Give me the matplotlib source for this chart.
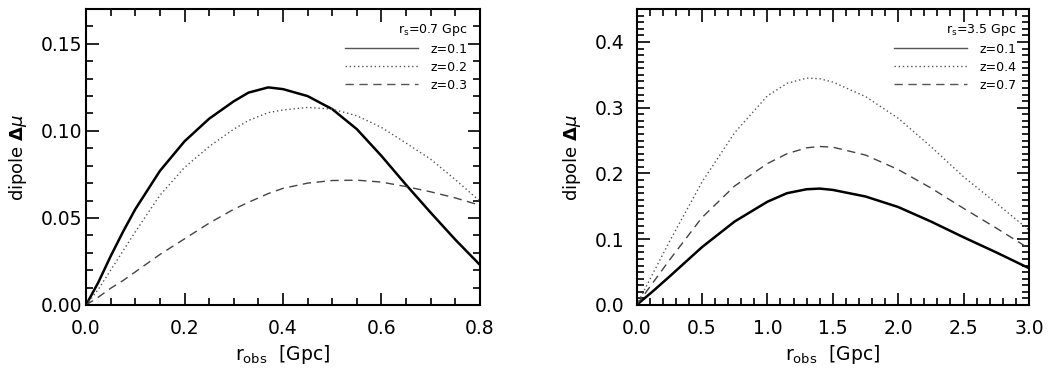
import matplotlib
matplotlib.use('Agg')
import matplotlib.pyplot as plt
from matplotlib.ticker import MultipleLocator, FormatStrFormatter
from matplotlib.lines import Line2D

plt.rcParams['font.family'] = ['DejaVu Sans']
plt.rcParams['mathtext.fontset'] = 'dejavusans'

# left panel, r_s = 0.7 Gpc
r_left = [0.0, 0.025, 0.05, 0.075, 0.1, 0.15, 0.2, 0.25, 0.3, 0.33, 0.37, 0.4,
          0.45, 0.5, 0.55, 0.6, 0.65, 0.7, 0.75, 0.8]
left_z01 = [0.0, 0.013, 0.028, 0.042, 0.055, 0.077, 0.094, 0.107, 0.117, 0.122,
            0.125, 0.124, 0.120, 0.1125, 0.101, 0.0856, 0.069, 0.053, 0.0375, 0.023]
left_z02 = [0.0, 0.009, 0.020, 0.031, 0.042, 0.063, 0.079, 0.091, 0.101, 0.106,
            0.1105, 0.112, 0.1135, 0.1125, 0.1087, 0.102, 0.093, 0.0837, 0.072, 0.0596]
left_z03 = [0.0, 0.0045, 0.0096, 0.014, 0.019, 0.029, 0.038, 0.047, 0.055, 0.059,
            0.064, 0.067, 0.070, 0.0715, 0.0717, 0.0706, 0.068, 0.065, 0.0615, 0.0573]
left_labels = ['z=0.1', 'z=0.2', 'z=0.3']

# right panel, r_s = 3.5 Gpc
r_right = [0.0, 0.125, 0.25, 0.5, 0.75, 1.0, 1.15, 1.3, 1.4, 1.5, 1.75, 2.0,
           2.25, 2.5, 2.75, 3.0]
right_z01 = [0.0, 0.021, 0.043, 0.088, 0.127, 0.157, 0.170, 0.176, 0.177, 0.175,
             0.165, 0.149, 0.127, 0.103, 0.080, 0.056]
right_z04 = [0.0, 0.048, 0.096, 0.187, 0.262, 0.318, 0.337, 0.345, 0.344, 0.339,
             0.317, 0.284, 0.241, 0.195, 0.155, 0.114]
right_z07 = [0.0, 0.034, 0.068, 0.133, 0.181, 0.215, 0.230, 0.239, 0.241, 0.240,
             0.228, 0.206, 0.178, 0.147, 0.117, 0.086]
right_labels = ['z=0.1', 'z=0.4', 'z=0.7']

styles = [dict(color='black', linestyle='-', linewidth=1.8),
          dict(color='#555555', linestyle=(0, (1, 2)), linewidth=1.0),
          dict(color='#444444', linestyle=(0, (6, 4)), linewidth=1.0)]


def style_axes(ax, xmaj, xmin, ymaj, ymin, ypad):
    ax.xaxis.set_major_locator(MultipleLocator(xmaj))
    ax.xaxis.set_minor_locator(MultipleLocator(xmin))
    ax.yaxis.set_major_locator(MultipleLocator(ymaj))
    ax.yaxis.set_minor_locator(MultipleLocator(ymin))
    ax.tick_params(which='both', direction='in', top=True, right=True,
                   labelsize=13.5, width=1.2)
    ax.tick_params(which='major', length=9)
    ax.tick_params(which='minor', length=5)
    ax.tick_params(axis='x', which='major', pad=10)
    ax.tick_params(axis='y', which='major', pad=ypad)
    for s in ax.spines.values():
        s.set_linewidth(1.5)
    ax.set_xlabel(r'r$_{\rm obs}$  [Gpc]', fontsize=13.5, labelpad=4)
    ax.set_ylabel(r'dipole $\mathbf{\Delta}\mathit{\mu}$', fontsize=13, labelpad=8)


def add_legend(ax, title, labels):
    handles = [Line2D([], [], **st) for st in styles]
    leg = ax.legend(handles, labels, loc='upper right', frameon=False,
                    title=title, title_fontsize=9, fontsize=9,
                    handlelength=5.8, handletextpad=1.0, labelspacing=0.4,
                    borderaxespad=0.6)
    leg._legend_box.align = 'right'
    for h in leg.legend_handles:
        h.set_linewidth(1.0)
        h.set_color('#555555')


fig = plt.figure(figsize=(10.54, 3.77), dpi=100)
ax1 = fig.add_axes([0.0816, 0.191, 0.3738, 0.785])
ax2 = fig.add_axes([0.604, 0.191, 0.3722, 0.785])

for ys, st in zip([left_z01, left_z02, left_z03], styles):
    ax1.plot(r_left, ys, **st)
ax1.set_xlim(0, 0.8)
ax1.set_ylim(0, 0.17)
style_axes(ax1, 0.2, 0.05, 0.05, 0.01, 3)
ax1.yaxis.set_major_formatter(FormatStrFormatter('%.2f'))
ax1.xaxis.set_major_formatter(FormatStrFormatter('%.1f'))
add_legend(ax1, r'r$_{\rm s}$=0.7 Gpc', left_labels)

for ys, st in zip([right_z01, right_z04, right_z07], styles):
    ax2.plot(r_right, ys, **st)
ax2.set_xlim(0, 3.0)
ax2.set_ylim(0, 0.45)
style_axes(ax2, 0.5, 0.1, 0.1, 0.01, 9)
ax2.yaxis.set_major_formatter(FormatStrFormatter('%.1f'))
ax2.xaxis.set_major_formatter(FormatStrFormatter('%.1f'))
add_legend(ax2, r'r$_{\rm s}$=3.5 Gpc', right_labels)

fig.savefig('out.png', dpi=100)
